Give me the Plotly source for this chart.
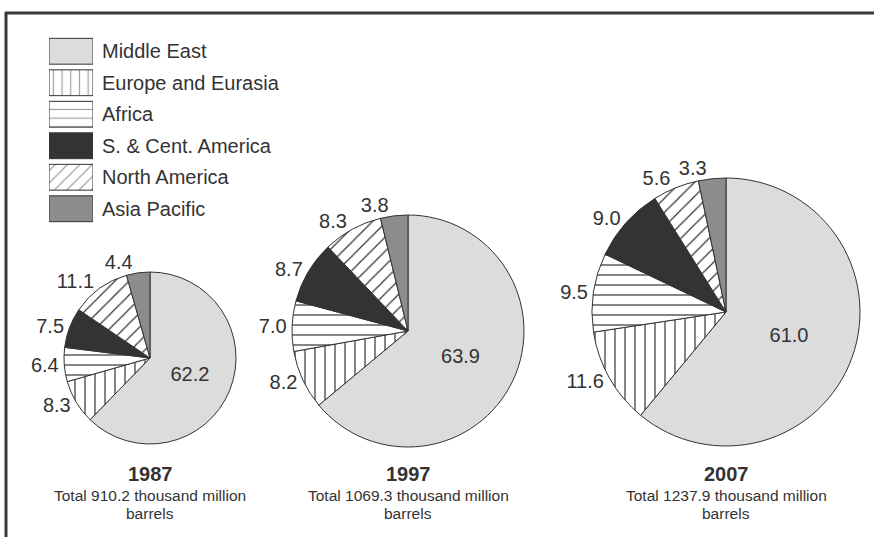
import plotly.graph_objects as go

W, H = 874, 537

regions = ["Middle East", "Europe and Eurasia", "Africa", "S. & Cent. America",
           "North America", "Asia Pacific"]
years = ["1987", "1997", "2007"]
shares_1987 = [62.2, 8.3, 6.4, 7.5, 11.1, 4.4]
shares_1997 = [63.9, 8.2, 7.0, 8.7, 8.3, 3.8]
shares_2007 = [61.0, 11.6, 9.5, 9.0, 5.6, 3.3]
totals = [910.2, 1069.3, 1237.9]

fills = ["#dcdcdd", "#ffffff", "#ffffff", "#333333", "#ffffff", "#8c8c8c"]
patterns = ["", "|", "-", "", "/", ""]
INK = "#333333"
FONT = "Liberation Sans, Arial, Helvetica, sans-serif"

# pie layout: center (px) and radius (px)
pie_geo = [(150, 358, 86), (408, 331, 116), (726, 312, 134)]


def xp(x):
    return x / W


def yp(y):
    return 1 - y / H


fig = go.Figure()
n = len(regions)

for yr, vals, (cx, cy, r) in zip(years, [shares_1987, shares_1997, shares_2007], pie_geo):
    dom = dict(x=[xp(cx - r), xp(cx + r)], y=[yp(cy + r), yp(cy - r)])
    labels_txt = [f"{v:.1f}" for v in vals]
    # drawn pie, with the big slice labelled inside
    fig.add_trace(go.Pie(
        labels=regions, values=vals, text=labels_txt,
        textinfo="text", sort=False, direction="clockwise", rotation=0,
        textposition=["inside"] + ["none"] * (n - 1),
        insidetextorientation="horizontal",
        textfont=dict(family=FONT, size=20, color=INK),
        marker=dict(colors=fills, line=dict(color=INK, width=1),
                    pattern=dict(shape=patterns, fgcolor=INK, bgcolor=fills,
                                 size=10, solidity=0.12)),
        domain=dom, showlegend=False, hoverinfo="label+value", name=yr,
    ))
    # one transparent overlay per outside label so labels are never shifted
    for k in range(1, n):
        fig.add_trace(go.Pie(
            labels=regions, values=vals, text=labels_txt,
            textinfo="text", sort=False, direction="clockwise", rotation=0,
            textposition=["outside" if j == k else "none" for j in range(n)],
            textfont=dict(family=FONT, size=20, color=INK),
            marker=dict(colors=["rgba(0,0,0,0)"] * n, line=dict(width=0)),
            domain=dom, showlegend=False, hoverinfo="skip", name=yr,
        ))

# legend drawn as patterned bars on hidden axes
fig.add_trace(go.Bar(
    x=[1] * n, y=regions, orientation="h",
    marker=dict(color=fills, line=dict(color=INK, width=1),
                pattern=dict(shape=patterns, fgcolor=INK, bgcolor=fills,
                             size=8.7, solidity=0.14)),
    width=0.82, showlegend=False, hoverinfo="skip",
))
row_top, pitch = 35.5, 31.5
fig.update_xaxes(domain=[xp(49), xp(93)], range=[0, 1], visible=False, fixedrange=True)
fig.update_yaxes(domain=[yp(row_top + 6 * pitch), yp(row_top)], range=[5.5, -0.5],
                 type="category", categoryorder="array", categoryarray=regions,
                 visible=False, fixedrange=True)

annotations = []
for i, name in enumerate(regions):
    annotations.append(dict(x=xp(100), y=yp(row_top + pitch * (i + 0.5)), xref="paper",
                            yref="paper", text=name, showarrow=False, xanchor="left",
                            yanchor="middle", font=dict(family=FONT, size=20, color=INK)))

for yr, tot, (cx, cy, r) in zip(years, totals, pie_geo):
    annotations.append(dict(x=xp(cx), y=yp(473.5), xref="paper", yref="paper",
                            text=f"<b>{yr}</b>", showarrow=False, xanchor="center",
                            yanchor="middle", font=dict(family=FONT, size=20, color=INK)))
    annotations.append(dict(x=xp(cx), y=yp(495.5), xref="paper", yref="paper",
                            text=f"Total {tot} thousand million", showarrow=False,
                            xanchor="center", yanchor="middle",
                            font=dict(family=FONT, size=15.5, color=INK)))
    annotations.append(dict(x=xp(cx), y=yp(513), xref="paper", yref="paper",
                            text="barrels", showarrow=False, xanchor="center",
                            yanchor="middle", font=dict(family=FONT, size=15.5, color=INK)))

shapes = [
    dict(type="line", xref="paper", yref="paper", x0=xp(5), x1=xp(874), y0=yp(13), y1=yp(13),
         line=dict(color="#3a3a3a", width=3)),
    dict(type="line", xref="paper", yref="paper", x0=xp(6), x1=xp(6), y0=yp(12), y1=yp(537),
         line=dict(color="#3a3a3a", width=3)),
]

fig.update_layout(
    width=W, height=H, margin=dict(l=0, r=0, t=0, b=0),
    paper_bgcolor="white", plot_bgcolor="white",
    annotations=annotations, shapes=shapes, font=dict(family=FONT, color=INK),
)

fig.write_html("out.html", config={"displayModeBar": False},
               post_script="document.body.style.margin='0';")
